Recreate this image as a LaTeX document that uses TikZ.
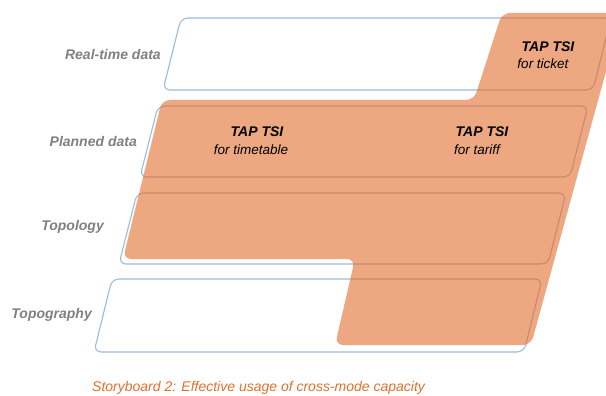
\documentclass[tikz,border=0pt]{standalone}
\usepackage{fontspec}
\setmainfont{Liberation Sans}
\definecolor{fillor}{HTML}{EDA882}
\definecolor{boxblue}{HTML}{9DBBDB}
\definecolor{boxbrown}{HTML}{C98A6C}
\definecolor{labgray}{HTML}{808080}
\definecolor{capor}{HTML}{E2702C}
\tikzset{
  layerbox/.style={line width=1.1pt, rounded corners=7pt},
  layerlab/.style={anchor=east, text=labgray, font=\fontsize{14}{16}\selectfont\bfseries\itshape, inner sep=0pt},
  tsihead/.style={font=\fontsize{14}{16}\selectfont\bfseries\itshape, inner sep=0pt},
  tsisub/.style={font=\fontsize{13.5}{16}\selectfont\itshape, inner sep=0pt},
}
\def\orangepath{(502,13) -- (622,13) -- (531,345) -- (335,345) -- (355,259) -- (123,259) -- (162,100) -- (474,100) -- cycle}
\def\boxes#1{%
  \draw[layerbox,#1] (181,18) -- (611,18) -- (593,90) -- (163,90) -- cycle;
  \draw[layerbox,#1] (158,106) -- (588,106) -- (570,177) -- (140,177) -- cycle;
  \draw[layerbox,#1] (137,193) -- (566,193) -- (548,264) -- (119,264) -- cycle;
  \draw[layerbox,#1] (112,279) -- (542,279) -- (524,352) -- (94,352) -- cycle;
}
\begin{document}
\begin{tikzpicture}[x=1pt,y=-1pt]
\useasboundingbox (0,0) rectangle (606,396);
\begin{scope}
\clip (0,0) rectangle (606,396);
\boxes{draw=boxblue}
\fill[fillor, rounded corners=8pt] \orangepath;
\begin{scope}
\clip[rounded corners=8pt] \orangepath;
\boxes{draw=boxbrown}
\end{scope}
\end{scope}
\node[layerlab] (rt) at (161,55) {Real-time data};
\node[layerlab] (pd) at (137,141) {Planned data};
\node[layerlab] (tl) at (104,227) {Topology};
\node[layerlab] (tg) at (92,315) {Topography};
\node[tsihead] (tk1) at (548,47) {TAP TSI};
\node[tsisub] (tk2) at (543,64) {for ticket};
\node[tsihead] (tt1) at (257,132) {TAP TSI};
\node[tsisub] (tt2) at (251,150) {for timetable};
\node[tsihead] (tf1) at (482,132) {TAP TSI};
\node[tsisub] (tf2) at (477,150) {for tariff};
\node[anchor=west, text=capor, font=\fontsize{14}{16}\selectfont\itshape, inner sep=0pt] (cap) at (92,388) {Storyboard 2: Effective usage of cross-mode capacity};
\end{tikzpicture}
\end{document}
